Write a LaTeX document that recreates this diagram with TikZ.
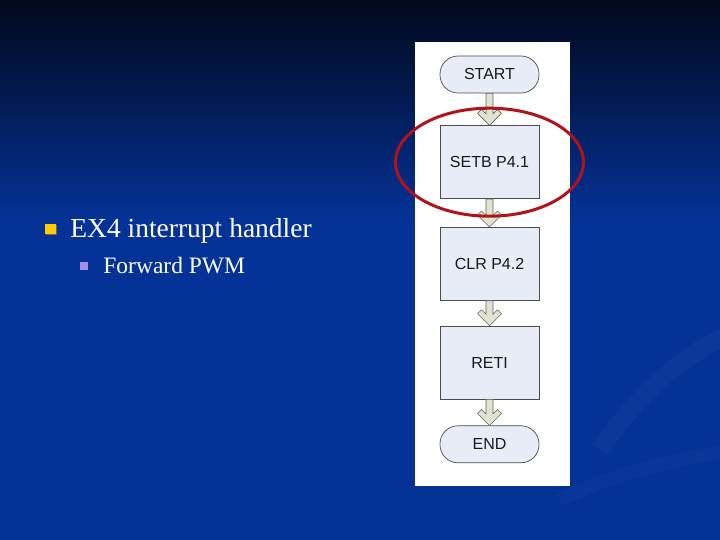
\documentclass[tikz,border=0pt]{standalone}
\usepackage{fontspec}
\setmainfont{Liberation Serif}
\newfontfamily\flowfont{Liberation Sans}
\usepackage{xcolor}
\usepackage{tikz}
\usetikzlibrary{positioning, calc}

\definecolor{slidetop}{RGB}{2,8,28}
\definecolor{slideblue}{RGB}{4,50,150}
\definecolor{boxfill}{RGB}{232,236,246}
\definecolor{arrowfill}{RGB}{226,226,210}
\definecolor{arrowline}{RGB}{100,100,86}
\definecolor{ringred}{RGB}{178,18,26}
\definecolor{bulletyellow}{RGB}{255,204,0}
\definecolor{bulletlilac}{RGB}{164,142,226}

\begin{document}
\begin{tikzpicture}[x=1pt, y=1pt, thick, node distance=28pt,
    stepbox/.style={draw=black!70, line width=0.7pt, fill=boxfill, minimum width=99pt, minimum height=73pt, font=\flowfont\fontsize{16}{19}\selectfont, text=black!90},
    terminal/.style={stepbox, minimum height=37pt, rounded corners=18pt},
    flowarrow/.style={draw=arrowline, fill=arrowfill, line width=0.6pt, line join=round,
        to path={let \p1=(\tikztostart.south), \p2=(\tikztotarget.north) in
            (\x2,\y2) -- (\x2-12pt,\y2+12pt) -- (\x2-8pt,\y2+16pt) -- (\x2-3.5pt,\y2+11.5pt)
            -- (\x2-3.5pt,\y1) -- (\x2+3.5pt,\y1) -- (\x2+3.5pt,\y2+11.5pt)
            -- (\x2+8pt,\y2+16pt) -- (\x2+12pt,\y2+12pt) -- cycle}},
    highlight/.style={draw=ringred, line width=3pt}]
            % Background
            \useasboundingbox (0,0) rectangle (720,540);
            \fill[slideblue] (0,0) rectangle (720,540);
            \fill[top color=slidetop, bottom color=slideblue] (0,320) rectangle (720,540);
            \draw[white, opacity=0.03, line width=18pt] (600,90) .. controls (640,150) and (690,190) .. (730,205);
            \draw[white, opacity=0.025, line width=14pt] (560,40) .. controls (620,70) and (680,80) .. (730,90);
            \fill[white] (415,54) rectangle (570,498);

            % Bullets
            \fill[black!60] (46,305) rectangle (57,315);
            \fill[bulletyellow] (45,306) rectangle (56,316);
            \node[anchor=base west, text=white, font=\fontsize{27.5}{32}\selectfont, inner sep=0pt] (title) at (70,302) {EX4 interrupt handler};
            \fill[bulletlilac] (80,270) rectangle (88,278);
            \node[anchor=base west, text=white, font=\fontsize{23.5}{28}\selectfont, inner sep=0pt] (sub) at (103,266) {Forward PWM};

            % Nodes
            \node[terminal] (start) at (489.5,465.5) {START};
            \node[stepbox, below=32pt of start] (setb) {SETB P4.1};
            \node[stepbox, below=of setb] (clr) {CLR P4.2};
            \node[stepbox, below=25pt of clr] (reti) {RETI};
            \node[terminal, below=26pt of reti] (end) {END};

            % Arrows
            \draw[flowarrow] (start) to (setb);
            \draw[flowarrow] (setb) to (clr);
            \draw[flowarrow] (clr) to (reti);
            \draw[flowarrow] (reti) to (end);

            % Ring round the first step
            \draw[highlight] (setb.center) ellipse [x radius=94, y radius=54];
\end{tikzpicture}
\end{document}
